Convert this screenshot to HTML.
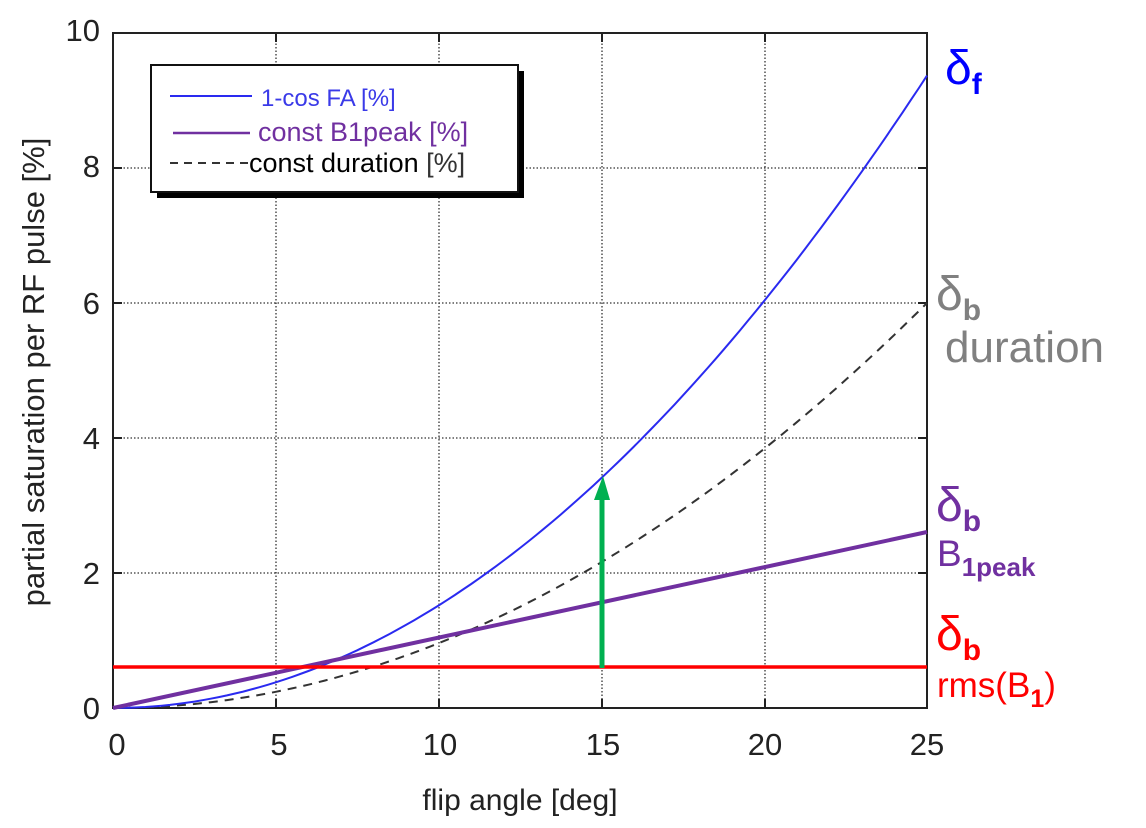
<!DOCTYPE html>
<html><head><meta charset="utf-8"><style>
body{margin:0;background:#fff;}
svg{display:block;font-family:"Liberation Sans",sans-serif;}
</style></head><body>
<svg id="s" width="1146" height="828" viewBox="0 0 1146 828">
<g stroke="#333" stroke-width="1.3" stroke-dasharray="1.5,2" fill="none">
<path d="M276 33V708M439 33V708M602 33V708M765 33V708"/>
<path d="M113 573H927M113 438H927M113 303H927M113 168H927"/>
</g>
<g stroke="#222" stroke-width="2" fill="none">
<rect x="113" y="33" width="814" height="675"/>
<path d="M276 708v-9M439 708v-9M602 708v-9M765 708v-9M276 33v9M439 33v9M602 33v9M765 33v9"/>
<path d="M113 573h9M113 438h9M113 303h9M113 168h9M927 573h-9M927 438h-9M927 303h-9M927 168h-9"/>
</g>
<g font-size="31" fill="#222" text-anchor="middle">
<text x="117" y="755">0</text><text x="279" y="755">5</text><text x="440" y="755">10</text><text x="603" y="755">15</text><text x="765" y="755">20</text><text x="927" y="755">25</text>
</g>
<g font-size="31" fill="#222" text-anchor="end">
<text x="100" y="719">0</text><text x="100" y="584">2</text><text x="100" y="449">4</text><text x="100" y="314">6</text><text x="100" y="177">8</text><text x="100" y="41">10</text>
</g>
<text x="520" y="810" font-size="30" fill="#222" text-anchor="middle">flip angle [deg]</text>
<text transform="translate(44,372) rotate(-90)" font-size="31" fill="#222" text-anchor="middle">partial saturation per RF pulse [%]</text>
<path id="dash" fill="none" stroke="#333" stroke-width="2" stroke-dasharray="9,7"/>
<path id="blue" fill="none" stroke="#2a2af0" stroke-width="2"/>
<line x1="113" y1="708" x2="927" y2="532" stroke="#7030a0" stroke-width="4"/>
<line x1="113" y1="667" x2="927" y2="667" stroke="#ff0000" stroke-width="3.5"/>
<line x1="602" y1="668" x2="602" y2="496" stroke="#00b050" stroke-width="5"/>
<polygon points="594,500 610,500 603,476" fill="#00b050"/>
<rect x="157" y="71" width="367" height="127" fill="#000"/>
<rect x="151" y="65" width="367" height="127" fill="#fff" stroke="#111" stroke-width="2"/>
<line x1="170" y1="96" x2="252" y2="96" stroke="#2a2af0" stroke-width="2"/>
<line x1="173" y1="133" x2="250" y2="133" stroke="#7030a0" stroke-width="2.5"/>
<line x1="170" y1="163" x2="248" y2="163" stroke="#333" stroke-width="2" stroke-dasharray="8,6"/>
<text x="261" y="106" font-size="24" fill="#3a3ae8">1-cos FA [%]</text>
<text x="258" y="141" font-size="27" fill="#7030a0">const B1peak [%]</text>
<text x="249" y="172" font-size="27" fill="#000">const duration <tspan fill="#333">[%]</tspan></text>
<g font-size="48">
<text x="945" y="84" fill="#0000ff">δ<tspan font-size="30" font-weight="bold" dy="10">f</tspan></text>
<text x="936" y="310" fill="#808080">δ<tspan font-size="30" font-weight="bold" dy="10">b</tspan></text>
<text x="945" y="362" fill="#808080" font-size="44">duration</text>
<text x="936" y="521" fill="#7030a0">δ<tspan font-size="30" font-weight="bold" dy="10">b</tspan></text>
<text x="937" y="566" fill="#7030a0" font-size="37">B<tspan font-size="26" font-weight="bold" dy="10">1peak</tspan></text>
<text x="936" y="650" fill="#ff0000">δ<tspan font-size="30" font-weight="bold" dy="10">b</tspan></text>
<text x="937" y="697" fill="#ff0000" font-size="35">rms(B<tspan font-size="25" font-weight="bold" dy="10">1</tspan><tspan dy="-10">)</tspan></text>
</g>
</svg>
<script>
var X=function(v){return 113+v*32.56},Y=function(v){return 708-v*67.5};
var b="",d="";
for(var i=0;i<=100;i++){var a=i*0.25;
b+=(i?"L":"M")+X(a).toFixed(1)+" "+Y(100*(1-Math.cos(a*Math.PI/180))).toFixed(1);
d+=(i?"L":"M")+X(a).toFixed(1)+" "+Y(6*Math.pow(a/25,2)).toFixed(1);}
document.getElementById("blue").setAttribute("d",b);
document.getElementById("dash").setAttribute("d",d);
</script>
</body></html>
